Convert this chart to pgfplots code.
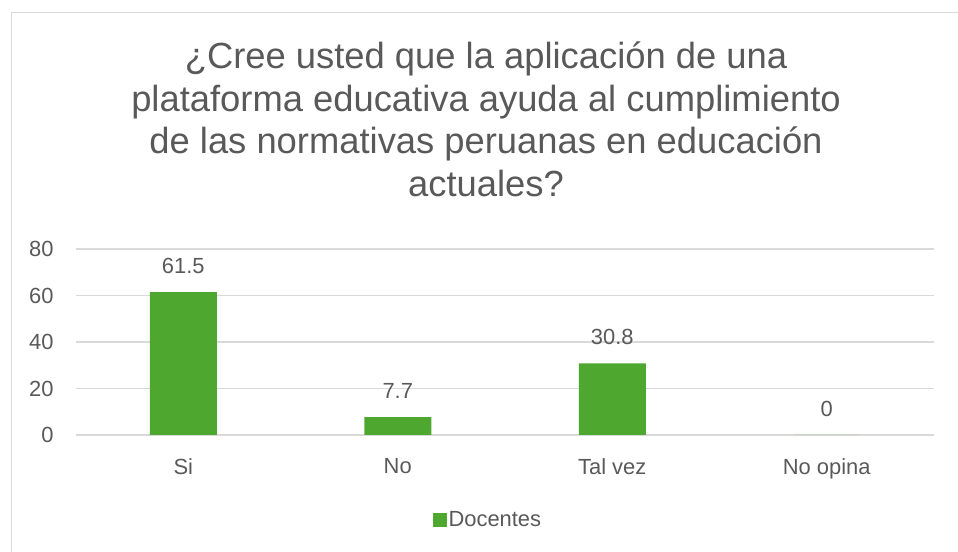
\documentclass[border=0pt]{standalone}
\usepackage{pgfplots}
\pgfplotsset{compat=1.18}
\usepackage{fontspec}
\setmainfont{Liberation Sans}
\definecolor{barg}{HTML}{4EA72E}
\definecolor{txt}{HTML}{595959}
\definecolor{grd}{HTML}{D9D9D9}
\begin{document}
\begin{tikzpicture}[x=1bp,y=1bp]
\path[use as bounding box] (0,0) rectangle (958,552);
\draw[grd,line width=1.5bp] (11.5,0) -- (11.5,539.5) -- (958,539.5);
\node[txt,anchor=base,font=\fontsize{36.5}{40}\selectfont] at (486,483) {¿Cree usted que la aplicación de una};
\node[txt,anchor=base,font=\fontsize{36.5}{40}\selectfont] at (486,440) {plataforma educativa ayuda al cumplimiento};
\node[txt,anchor=base,font=\fontsize{36.5}{40}\selectfont] at (486,398) {de las normativas peruanas en educación};
\node[txt,anchor=base,font=\fontsize{36.5}{40}\selectfont] at (486,355) {actuales?};
\begin{axis}[
  at={(76bp,117bp)}, anchor=south west,
  scale only axis, width=858bp, height=186bp,
  xmin=-0.5, xmax=3.5, ymin=0, ymax=80,
  ytick={0,20,40,60,80},
  xtick={0,1,2,3},
  xticklabels={Si,No,Tal vez,No opina},
  axis line style={draw=none},
  major tick length=0pt,
  ymajorgrids, grid style={grd,line width=1.2bp},
  tick label style={txt,font=\fontsize{22}{26}\selectfont},
  yticklabel style={xshift=-19bp},
  xticklabel style={yshift=-20bp},
  /pgf/number format/assume math mode=true,
  ybar, bar width=67bp,
  nodes near coords,
  every node near coord/.append style={txt,font=\fontsize{22}{26}\selectfont,yshift=15bp},
  point meta=explicit symbolic,
  legend style={at={(0.48,-0.455)},anchor=center,draw=none,font=\fontsize{22}{26}\selectfont,text=txt,legend columns=1},
  legend image code/.code={\fill[barg] (0bp,-7bp) rectangle (14bp,7bp);},
  clip=false,
]
\addplot[fill=barg,draw=none] coordinates {(0,61.5) [61.5] (1,7.7) [7.7] (2,30.8) [30.8] (3,0) [0]};
\addlegendentry{Docentes}
\end{axis}
\end{tikzpicture}
\end{document}
